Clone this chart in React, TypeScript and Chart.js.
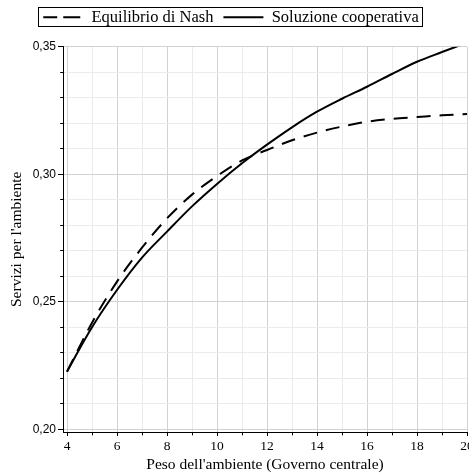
import React, { useEffect, useRef } from "react";
import { Chart, registerables } from "chart.js";

Chart.register(...registerables);

const xValues = [4, 5, 6, 7, 8, 9, 10, 11, 12, 13, 14, 15, 16, 17, 18, 19, 20];
const nashValues = [0.2226, 0.2418, 0.2579, 0.2712, 0.2827, 0.292, 0.2993, 0.3054, 0.3095, 0.3133, 0.3163, 0.3187, 0.3206, 0.3217, 0.3224, 0.3231, 0.3236];
const coopValues = [0.2226, 0.24, 0.2546, 0.2673, 0.2775, 0.2874, 0.2962, 0.3043, 0.3116, 0.3184, 0.3245, 0.3296, 0.3343, 0.3393, 0.3441, 0.3479, 0.3516];
const seriesNames = ["Equilibrio di Nash", "Soluzione cooperativa"];
const xTicks = [4, 5, 6, 7, 8, 9, 10, 11, 12, 13, 14, 15, 16, 17, 18, 19, 20];
const yTicks = [0.2, 0.21, 0.22, 0.23, 0.24, 0.25, 0.26, 0.27, 0.28, 0.29, 0.3, 0.31, 0.32, 0.33, 0.34, 0.35];
const xTitle = "Peso dell'ambiente (Governo centrale)";
const yTitle = "Servizi per l'ambiente";

const SERIF = "'Liberation Serif', 'Times New Roman', serif";
const SANS = "'Liberation Sans', Arial, sans-serif";

const isMajorX = (v: number) => Math.round(v) % 2 === 0;
const isMajorY = (v: number) => Math.round(v * 100) % 5 === 0;

const legendBorder = {
  id: "legendBorder",
  afterDraw(chart: any) {
    const lg = chart.legend;
    if (!lg || !lg.legendHitBoxes || !lg.legendHitBoxes.length) return;
    const hb = lg.legendHitBoxes;
    let left = Infinity, right = -Infinity, top = Infinity;
    for (const b of hb) {
      left = Math.min(left, b.left);
      right = Math.max(right, b.left + b.width);
      top = Math.min(top, b.top);
    }
    const mid = top + hb[0].height / 2;
    const ctx = chart.ctx;
    ctx.save();
    ctx.strokeStyle = "#000";
    ctx.lineWidth = 1;
    ctx.setLineDash([]);
    ctx.strokeRect(Math.round(left - 5) + 0.5, Math.round(mid - 10) + 0.5, Math.round(right - left + 9), 19);
    ctx.restore();
  },
};

export default function App() {
  const ref = useRef<HTMLCanvasElement>(null);
  useEffect(() => {
    if (!ref.current) return;
    Chart.defaults.color = "#000";
    Chart.defaults.font.family = SERIF;
    const chart = new Chart(ref.current, {
      type: "line",
      data: {
        datasets: [
          {
            label: seriesNames[0],
            data: xValues.map((x, i) => ({ x, y: nashValues[i] })),
            borderColor: "#000",
            backgroundColor: "#000",
            borderWidth: 2,
            borderDash: [14, 9],
            pointRadius: 0,
            cubicInterpolationMode: "monotone",
          },
          {
            label: seriesNames[1],
            data: xValues.map((x, i) => ({ x, y: coopValues[i] })),
            borderColor: "#000",
            backgroundColor: "#000",
            borderWidth: 2,
            pointRadius: 0,
            cubicInterpolationMode: "monotone",
          },
        ],
      },
      options: {
        responsive: false,
        animation: false,
        devicePixelRatio: 1,
        layout: { padding: { top: -1, left: 0, right: 11, bottom: 0 } },
        plugins: {
          legend: {
            display: true,
            position: "top",
            labels: {
              boxWidth: 40,
              boxHeight: 0,
              padding: 10,
              color: "#000",
              font: { family: SERIF, size: 16.5 },
            },
          },
          title: {
            display: true,
            text: "",
            weight: 500,
            font: { size: 10, lineHeight: 1 },
            padding: { top: 0, bottom: 1.2 },
          } as any,
          tooltip: { enabled: false },
        },
        scales: {
          x: {
            type: "linear",
            min: 3.84,
            max: 20,
            afterBuildTicks: (s: any) => {
              s.ticks = xTicks.map((v) => ({ value: v }));
            },
            afterFit: (s: any) => {
              s.height = 43;
            },
            border: { display: true, color: "#000", width: 1 },
            grid: {
              color: (c: any) => (isMajorX(c.tick.value) ? "#d2d2d2" : "#ebebeb"),
              tickColor: "#000",
              tickLength: 4,
              tickBorderDash: (c: any) => (isMajorX(c.tick.value) ? [] : [2.4, 100]),
            },
            ticks: {
              autoSkip: false,
              maxRotation: 0,
              padding: 2.2,
              color: "#000",
              font: { family: SERIF, size: 13.5 },
              callback: (v: any) => (isMajorX(Number(v)) ? String(v) : ""),
            },
            title: {
              display: true,
              text: xTitle,
              color: "#000",
              font: { family: SERIF, size: 15.5 },
              padding: { top: 0, bottom: 0.7 },
            },
          },
          y: {
            type: "linear",
            min: 0.19894,
            max: 0.35,
            afterBuildTicks: (s: any) => {
              s.ticks = yTicks.map((v) => ({ value: v }));
            },
            afterFit: (s: any) => {
              s.width = 68;
            },
            border: { display: true, color: "#000", width: 1 },
            grid: {
              color: (c: any) => (isMajorY(c.tick.value) ? "#d2d2d2" : "#ebebeb"),
              tickColor: "#000",
              tickLength: 5,
              tickBorderDash: (c: any) => (isMajorY(c.tick.value) ? [] : [0, 2.2, 100]),
            },
            ticks: {
              autoSkip: false,
              padding: 2,
              color: "#000",
              font: { family: SANS, size: 12 },
              callback: (v: any) => (isMajorY(Number(v)) ? Number(v).toFixed(2).replace(".", ",") : ""),
            },
            title: {
              display: true,
              text: yTitle,
              color: "#000",
              font: { family: SERIF, size: 15.5 },
              padding: { top: 12.2, bottom: 0 },
            },
          },
        },
      },
      plugins: [legendBorder],
    });
    return () => chart.destroy();
  }, []);
  return (
    <div style={{ position: "absolute", left: 0, top: 0, width: 469, height: 475, overflow: "hidden", background: "#fff" }}>
      <canvas
        ref={ref}
        width={483}
        height={475}
        style={{ position: "absolute", left: -5, top: 0, width: 483, height: 475, display: "block" }}
      />
    </div>
  );
}
